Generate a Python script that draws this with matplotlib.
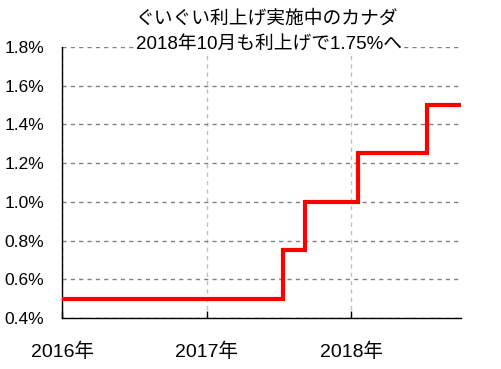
import matplotlib
matplotlib.use("Agg")
import matplotlib.pyplot as plt
import pandas as pd

plt.rcParams['font.family'] = ['Liberation Sans', 'Noto Sans CJK JP', 'DejaVu Sans']

# Bank of Canada policy rate (%), change dates
change_dates = ["2016-01-01", "2017-07-12", "2017-09-06", "2018-01-17", "2018-07-11", "2018-10-05"]
rates = [0.50, 0.75, 1.00, 1.25, 1.50, 1.50]
year_ticks = ["2016-01-01", "2017-01-01", "2018-01-01"]
year_labels = ["2016年", "2017年", "2018年"]
y_ticks = [0.4, 0.6, 0.8, 1.0, 1.2, 1.4, 1.6, 1.8]
title_line1 = "ぐいぐい利上げ実施中のカナダ"
title_line2 = "2018年10月も利上げで1.75%へ"

dates = pd.to_datetime(change_dates)

fig = plt.figure(figsize=(5.02, 3.69), dpi=100)
ax = fig.add_axes([62/502, 1-318/369, (461-62)/502, (318-47)/369])

ax.plot(dates, rates, color="#ff0000", lw=3, drawstyle="steps-post", solid_joinstyle="miter", zorder=3)

ax.set_xlim(dates[0], dates[-1])
ax.set_ylim(0.4, 1.8)
ax.set_yticks(y_ticks)
ax.set_yticklabels([f"{v:.1f}%" for v in y_ticks], fontsize=12.5)
ax.set_xticks(pd.to_datetime(year_ticks))
ax.set_xticklabels(year_labels, fontsize=14)

ax.tick_params(axis="y", length=0, pad=13)
ax.tick_params(axis="x", direction="in", length=5, width=1, pad=18)

ax.grid(axis="y", color="#808080", linestyle=(0, (3, 3)), lw=1)
ax.grid(axis="x", color="#c0c0c0", linestyle=(0, (3, 3)), lw=1)
ax.set_axisbelow(True)

for s in ["top", "right"]:
    ax.spines[s].set_visible(False)
for s in ["left", "bottom"]:
    ax.spines[s].set_color("black")
    ax.spines[s].set_linewidth(1)

fig.text(267/502, 1-19/369, title_line1, ha="center", va="center", fontsize=13.5)
fig.text(269/502, 1-45/369, title_line2, ha="center", va="center", fontsize=13.5,
         bbox=dict(facecolor="white", edgecolor="none", pad=1))

fig.savefig("out.png", dpi=100)
